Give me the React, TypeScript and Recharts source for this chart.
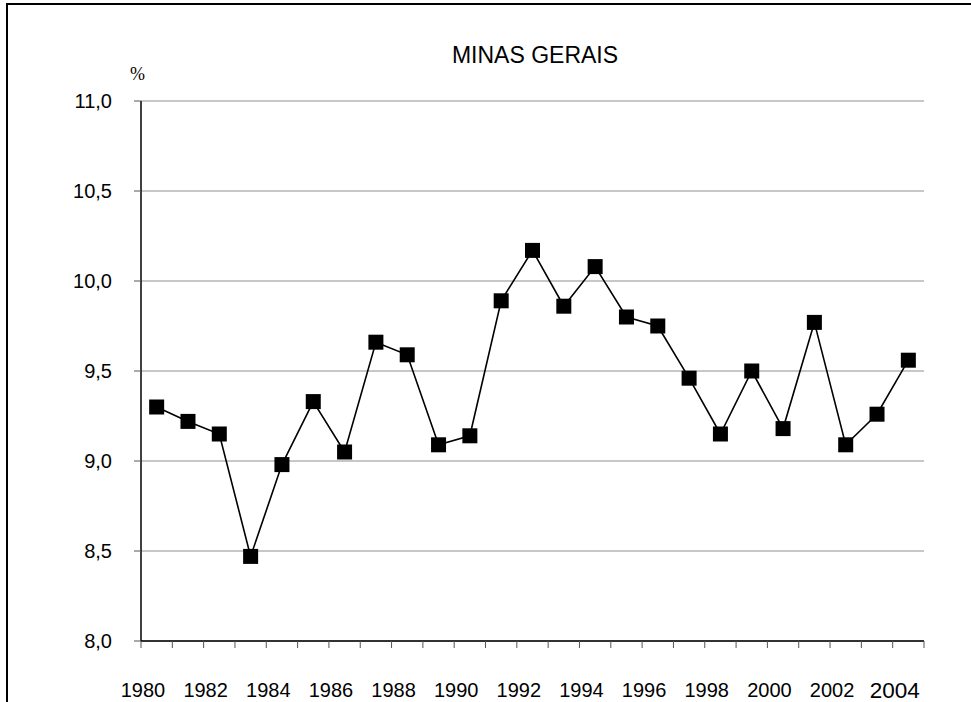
import React from 'react'
import { LineChart, Line, XAxis, YAxis, CartesianGrid } from 'recharts'

const years = [
  1980, 1981, 1982, 1983, 1984, 1985, 1986, 1987, 1988, 1989, 1990, 1991, 1992,
  1993, 1994, 1995, 1996, 1997, 1998, 1999, 2000, 2001, 2002, 2003, 2004,
]
const rates = [
  9.3, 9.22, 9.15, 8.47, 8.98, 9.33, 9.05, 9.66, 9.59, 9.09, 9.14, 9.89, 10.17,
  9.86, 10.08, 9.8, 9.75, 9.46, 9.15, 9.5, 9.18, 9.77, 9.09, 9.26, 9.56,
]
const yTicks = [8, 8.5, 9, 9.5, 10, 10.5, 11]
const xTicks = [...years, 2005]

const FONT = '"Liberation Sans", Arial, sans-serif'

// each year sits in the middle of its slot between two tick marks
const data = years.map((y, i) => ({ x: y + 0.5, valor: rates[i] }))

const fmtY = (v: number) => v.toFixed(1).replace('.', ',')

const YearTick = ({ x, y, payload }: any) => {
  const yr = payload.value
  if (yr % 2 !== 0 || yr > 2004) return null
  const last = yr === 2004
  return (
    <text
      x={x + 2}
      y={y + (last ? 48 : 47)}
      textAnchor="middle"
      fill="#000"
      fontSize={last ? 22.5 : 20}
      fontFamily={FONT}
    >
      {yr}
    </text>
  )
}

const SquareDot = ({ cx, cy }: any) => {
  if (cx == null || cy == null) return null
  return <rect x={cx - 7.5} y={cy - 7.5} width={15} height={15} fill="#000" />
}

export default function App() {
  return (
    <div
      style={{
        position: 'absolute',
        left: 0,
        top: 0,
        width: 971,
        height: 702,
        overflow: 'hidden',
        background: '#fff',
      }}
    >
      <div
        style={{
          position: 'absolute',
          left: 6,
          top: 3,
          width: 1100,
          height: 900,
          border: '2px solid #000',
        }}
      />
      <div
        style={{
          position: 'absolute',
          left: 0,
          width: 1070,
          top: 40,
          textAlign: 'center',
          fontFamily: FONT,
          fontSize: 23,
          lineHeight: '30px',
        }}
      >
        MINAS GERAIS
      </div>
      <div
        style={{
          position: 'absolute',
          left: 130,
          top: 63,
          fontFamily: '"Liberation Serif", "Times New Roman", serif',
          fontSize: 18,
          lineHeight: '22px',
        }}
      >
        %
      </div>
      <div style={{ position: 'absolute', left: 0, top: 0 }}>
        <LineChart
          width={971}
          height={702}
          data={data}
          margin={{ top: 101, right: 47, left: 0, bottom: 0 }}
        >
          <CartesianGrid vertical={false} stroke="#b4b4b4" strokeWidth={1.5} />
          <XAxis
            type="number"
            dataKey="x"
            domain={[1980, 2005]}
            ticks={xTicks}
            interval={0}
            height={61}
            axisLine={{ stroke: '#000', strokeWidth: 1.5 }}
            tickLine={{ stroke: '#555' }}
            tickSize={7}
            tick={<YearTick />}
          />
          <YAxis
            domain={[8, 11]}
            ticks={yTicks}
            width={141}
            interval={0}
            axisLine={{ stroke: '#000', strokeWidth: 1.5 }}
            tickLine={{ stroke: '#555' }}
            tickSize={7}
            tickMargin={22}
            tickFormatter={fmtY}
            tick={{ fill: '#000', fontSize: 20, fontFamily: FONT }}
          />
          <Line
            type="linear"
            dataKey="valor"
            stroke="#000"
            strokeWidth={1.6}
            dot={<SquareDot />}
            activeDot={false}
            isAnimationActive={false}
          />
        </LineChart>
      </div>
    </div>
  )
}
